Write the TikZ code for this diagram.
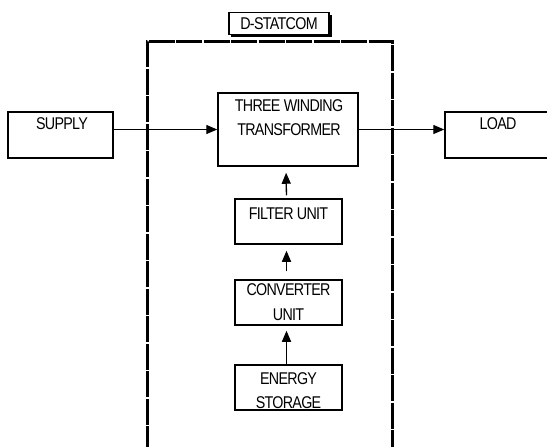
\documentclass[tikz,border=0pt]{standalone}
\usepackage{fontspec}
\setmainfont[FakeStretch=0.84]{Liberation Sans}
\usetikzlibrary{arrows.meta}
\tikzset{
  blk/.style={draw=black, line width=1.5pt, rectangle, inner sep=0pt},
  txt/.style={inner sep=0pt, font=\fontsize{17}{24.5}\selectfont\addfontfeature{LetterSpace=-4}, align=center},
  arr/.style={line width=1.3pt, -{Triangle[length=11pt,width=9pt]}},
  dbox/.style={line width=3pt, dash pattern=on 26pt off 1.5pt}
}
\begin{document}
\begin{tikzpicture}[x=1pt,y=-1pt]
\useasboundingbox (0,0) rectangle (547,447);
% D-STATCOM outline
\draw[dbox] (147,452) -- (147,41) -- (392,41) -- (392,452);
% label
\fill[black] (231,15) rectangle (332,37);
\node[draw=black, fill=white, line width=1.3pt, minimum width=100pt, minimum height=22pt, inner sep=0pt] (lab) at (279,23.5) {};
\node[txt] (labt) at (279,24) {D-STATCOM};
% boxes
\node[blk, minimum width=105pt, minimum height=46pt] (supply) at (60.5,135) {};
\node[txt] (supplyt) at (62,123.5) {SUPPLY};
\node[blk, minimum width=140pt, minimum height=73pt] (trans) at (288,129.5) {};
\node[txt, anchor=north] (transt) at (289,99) {THREE WINDING\\TRANSFORMER};
\node[blk, minimum width=110pt, minimum height=46pt] (load) at (500,135) {};
\node[txt] (loadt) at (498,123.5) {LOAD};
\node[blk, minimum width=107pt, minimum height=45pt] (filter) at (288.5,221.5) {};
\node[txt] (filtert) at (288.5,213.5) {FILTER UNIT};
\node[blk, minimum width=107pt, minimum height=45pt] (conv) at (288.5,302.5) {};
\node[txt, anchor=north] (convt) at (288.5,283.5) {CONVERTER\\UNIT};
\node[blk, minimum width=107pt, minimum height=45pt] (energy) at (288.5,387.5) {};
\node[txt, anchor=north] (energyt) at (288.5,372) {ENERGY\\STORAGE};
% connectors
\draw[arr] (supply.east |- trans.west) -- (trans.west);
\draw[arr] (trans.east) -- (load.west |- trans.east);
\draw[arr, shorten >=6pt, shorten <=3pt] ([xshift=-2pt]filter.north) -- ([xshift=-2pt]trans.south);
\draw[arr, shorten >=6pt, shorten <=8pt] ([xshift=-2pt]conv.north) -- ([xshift=-2pt]filter.south);
\draw[arr, shorten >=5pt] ([xshift=-2pt]energy.north) -- ([xshift=-2pt]conv.south);
\end{tikzpicture}
\end{document}
